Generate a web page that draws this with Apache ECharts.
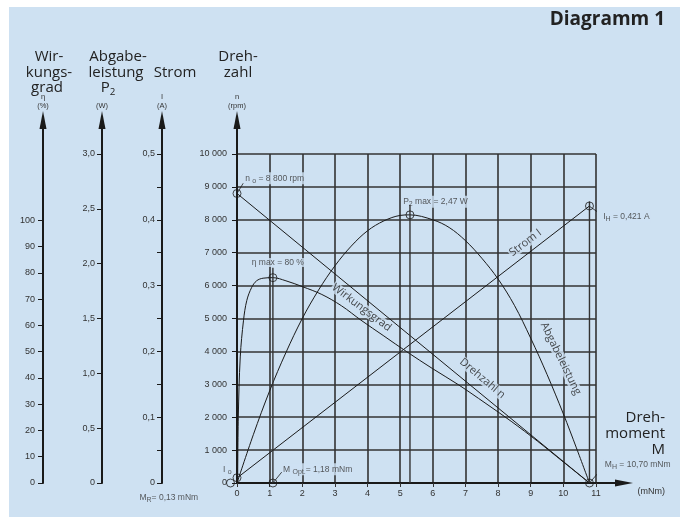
<!DOCTYPE html>
<html>
<head>
<meta charset="utf-8">
<script src="https://cdn.jsdelivr.net/npm/echarts@6/dist/echarts.min.js"></script>
<style>
  html, body { margin: 0; padding: 0; background: #fff; }
  #bg { position: absolute; left: 9px; top: 7px; width: 671px; height: 510px; background: #cee1f2; }
  #chart { position: absolute; left: 0; top: 0; width: 680px; height: 517px; }
</style>
</head>
<body>
<div id="bg"></div>
<div id="chart"></div>
<script>
// axis ticks
const effTicks = [0, 10, 20, 30, 40, 50, 60, 70, 80, 90, 100];

// Drehzahl n (rpm) over torque M (mNm)
const speedM = [0, 10.8];
const speedN = [8800, 0];

// Strom I (A)
const currentM = [-0.2, 10.8];
const currentI = [0, 0.421];

// Abgabeleistung P2 (W)
const powerM = [0, 0.5, 1, 1.5, 2, 2.5, 3, 3.5, 4, 4.5, 5, 5.3, 6, 6.5, 7, 7.5, 8, 8.5, 9, 9.5, 10, 10.4, 10.8];
const powerP = [0, 0.44, 0.84, 1.19, 1.50, 1.76, 1.98, 2.16, 2.30, 2.39, 2.44, 2.445, 2.40, 2.33, 2.21, 2.05, 1.86, 1.62, 1.32, 0.99, 0.63, 0.32, 0];

// Wirkungsgrad eta (%)
const effM = [0.02, 0.04, 0.1, 0.2, 0.3, 0.45, 0.6, 0.8, 1.1, 1.5, 2, 2.6, 3.2, 3.8, 4.5, 5.2, 6, 6.8, 7.6, 8.4, 9.2, 10, 10.8];
const effEta = [0, 25, 48, 62, 69.5, 74.5, 77, 78, 78.2, 77, 74.8, 71.8, 67.5, 62, 56, 50, 43.5, 37.3, 30.5, 23.5, 16, 8, 0];

// marked points
const speedMarks = [[0, 8800], [10.8, 0], [1.1, 0], [-0.2, 0]];   // n o, M H, M Opt, M R
const currentMarks = [[0, 0.008], [10.8, 0.421]];                 // I o, I H
const powerMarks = [[5.3, 2.445]];                                // P2 max
const effMarks = [[1.1, 78.2]];                                   // eta max

// vertical drop lines (torque, upper end in rpm)
const dropM = [1.1, 5.3, 10.8];
const dropTop = [6540, 8450, 8560];

// leader lines (torque / rpm)
const leaders = [
    [[0, 8800], [0.19, 9110]],
    [[10.8, 8410], [11.15, 8170]],
    [[10.8, 0], [11.25, 520]],
    [[1.1, 0], [1.37, 330]],
    [[-0.2, 0], [-0.57, -420]]
];

// notes next to the marks: text, torque, rpm
const notes = [
    ['n {s|o} = 8 800 rpm', 0.22, 9260],
    ['P{s|2} max = 2,47 W', 5.06, 8550],
    ['η max = 80 %', 0.42, 6700],
    ['I{s|H} = 0,421 A', 11.19, 8100],
    ['M{s|H} = 10,70 mNm', 11.24, 550],
    ['M {s|Opt.}= 1,18 mNm', 1.38, 420],
    ['I {s|o}', -0.46, 400],
    ['M{s|R}= 0,13 mNm', -3.02, -450]
];

// curve names: text, torque, rpm, angle
const curveNames = [
    ['Wirkungsgrad', 3.82, 5330, -37],
    ['Drehzahl n', 7.52, 3180, -40],
    ['Strom I', 8.84, 7300, 37],
    ['Abgabeleistung', 9.92, 3780, -64]
];

const ink = '#1a1a1a';
const gridInk = '#333';
const blue = '#cee1f2';
const smallFont = 'Liberation Sans, Arial, sans-serif';
const bigFont = 'Open Sans, sans-serif';
const tickText = { color: '#333', fontSize: 9, fontFamily: smallFont };

function pairs(xs, ys) {
    return xs.map((x, i) => [x, ys[i]]);
}

function comma(v) {
    return v === 0 ? '0' : v.toFixed(1).replace('.', ',');
}

function leftAxis(offset, extra) {
    return Object.assign({
        type: 'value',
        gridIndex: 0,
        position: 'left',
        offset: offset,
        axisLine: { show: false },
        axisTick: { show: true, length: 5, lineStyle: { color: ink } },
        splitLine: { show: false }
    }, extra);
}

function arrowAxis(offset) {
    return {
        type: 'value',
        gridIndex: 1,
        position: 'left',
        offset: offset,
        min: 0,
        max: 1,
        axisLine: { show: true, symbol: ['none', 'triangle'], symbolSize: [7, 18], lineStyle: { color: ink, width: 2 } },
        axisTick: { show: false },
        axisLabel: { show: false },
        splitLine: { show: false }
    };
}

function curve(data, yAxisIndex, smooth) {
    return {
        type: 'line',
        xAxisIndex: 0,
        yAxisIndex: yAxisIndex,
        data: data,
        symbol: 'none',
        smooth: smooth,
        z: 3,
        lineStyle: { color: ink, width: 1 },
        silent: true
    };
}

function marks(data, yAxisIndex) {
    return {
        type: 'scatter',
        xAxisIndex: 0,
        yAxisIndex: yAxisIndex,
        data: data,
        symbol: 'circle',
        symbolSize: 8,
        clip: false,
        z: 5,
        itemStyle: { color: 'rgba(0,0,0,0)', borderColor: ink, borderWidth: 1 },
        silent: true
    };
}

const subStyle = { fontSize: 7, color: '#333', fontFamily: smallFont, padding: [5, 0, 0, 0] };

const series = [
    curve(pairs(speedM, speedN), 0, false),
    curve(pairs(currentM, currentI), 1, false),
    curve(pairs(powerM, powerP), 2, 0.35),
    curve(pairs(effM, effEta), 3, 0.35)
];

dropM.forEach((m, i) => {
    series.push({
        type: 'line', xAxisIndex: 0, yAxisIndex: 0, symbol: 'none', silent: true, z: 3,
        data: [[m, 0], [m, dropTop[i]]],
        lineStyle: { color: gridInk, width: 1.4 }
    });
});

leaders.forEach(seg => {
    series.push({
        type: 'line', xAxisIndex: 0, yAxisIndex: 0, symbol: 'none', silent: true, clip: false, z: 3,
        data: seg,
        lineStyle: { color: ink, width: 0.8 }
    });
});

series.push(marks(speedMarks, 0), marks(currentMarks, 1), marks(powerMarks, 2), marks(effMarks, 3));

// notes (blue box hides the grid behind the text)
series.push({
    type: 'scatter', xAxisIndex: 0, yAxisIndex: 0, symbolSize: 0, clip: false, silent: true, z: 1,
    data: notes.map(n => ({ value: [n[1], n[2]], text: n[0] })),
    label: {
        show: true, position: 'right', distance: 0,
        formatter: p => p.data.text,
        color: '#333', fontSize: 8.5, fontFamily: smallFont,
        backgroundColor: blue, padding: [0, 1],
        rich: { s: subStyle }
    }
});

// curve names
series.push({
    type: 'scatter', xAxisIndex: 0, yAxisIndex: 0, symbolSize: 0, silent: true, z: 1,
    data: curveNames.map(c => ({
        value: [c[1], c[2]],
        label: { formatter: c[0], rotate: c[3] }
    })),
    label: {
        show: true, position: 'inside',
        color: '#222', fontSize: 11, fontFamily: bigFont,
        backgroundColor: blue, padding: [0, 1]
    }
});

// header texts
function txt(text, x, y, size, align, weight) {
    return {
        type: 'text', x: x, y: y, silent: true,
        style: {
            text: text, fill: '#222', align: align || 'center', verticalAlign: 'middle',
            fontSize: size, fontWeight: weight || 'normal', fontFamily: bigFont,
            rich: { s: { fontSize: size * 0.65, fill: '#222', fontFamily: bigFont, padding: [size * 0.5, 0, 0, 0] } }
        }
    };
}
function unit(text, x, y, size, align) {
    return {
        type: 'text', x: x, y: y, silent: true,
        style: { text: text, fill: '#333', align: align || 'center', verticalAlign: 'middle', fontSize: size || 7.5, fontFamily: smallFont }
    };
}

const headers = [
    txt('Diagramm 1', 665, 20, 19, 'right', 'bold'),
    txt('Wir-', 49, 57, 15), txt('kungs-', 49, 72.5, 15), txt('grad', 47, 88, 15),
    txt('Abgabe-', 118, 57, 15), txt('leistung', 116, 72.5, 15), txt('P{s|2}', 108, 88, 15),
    txt('Strom', 175, 72.5, 15),
    txt('Dreh-', 238, 57, 15), txt('zahl', 238, 72.5, 15),
    txt('Dreh-', 665, 418, 15, 'right'), txt('moment', 665, 434, 15, 'right'), txt('M', 665, 449.5, 15, 'right'),
    unit('η', 43, 97), unit('(%)', 43, 106),
    unit('(W)', 102, 106),
    unit('I', 162, 97), unit('(A)', 162, 106),
    unit('n', 237, 97), unit('(rpm)', 237, 106),
    unit('(mNm)', 665, 491.5, 9, 'right')
];

const chart = echarts.init(document.getElementById('chart'));

const options = {
    animation: false,
    grid: [
        { left: 237, top: 154, width: 359, height: 329, outerBoundsMode: 'none' },
        { left: 237, top: 120, width: 387, height: 363, outerBoundsMode: 'none' }
    ],
    xAxis: [
        {
            type: 'value', gridIndex: 0, min: 0, max: 11, interval: 1,
            axisLine: { show: false },
            axisTick: { show: true, length: 4, lineStyle: { color: gridInk } },
            axisLabel: Object.assign({ margin: 6 }, tickText),
            splitLine: { show: true, lineStyle: { color: gridInk, width: 1.6 } }
        },
        {
            type: 'value', gridIndex: 1, min: 0, max: 1,
            axisLine: { show: true, symbol: ['none', 'triangle'], symbolSize: [7, 18], lineStyle: { color: ink, width: 2 } },
            axisTick: { show: false },
            axisLabel: { show: false },
            splitLine: { show: false }
        }
    ],
    yAxis: [
        // Drehzahl
        leftAxis(0, {
            min: 0, max: 10000, interval: 1000,
            axisLabel: Object.assign({ margin: 10, formatter: v => String(v).replace(/\B(?=(\d{3})+(?!\d))/g, ' ') }, tickText),
            splitLine: { show: true, lineStyle: { color: gridInk, width: 1.6 } }
        }),
        // Strom
        leftAxis(75, {
            min: 0, max: 0.5, interval: 0.05,
            axisLabel: Object.assign({ margin: 7, formatter: v => Math.round(v * 100) % 10 === 0 ? comma(v) : '' }, tickText)
        }),
        // Abgabeleistung
        leftAxis(135, {
            min: 0, max: 3, interval: 0.5,
            axisLabel: Object.assign({ margin: 7, formatter: comma }, tickText)
        }),
        // Wirkungsgrad
        leftAxis(194, {
            min: 0, max: 125.3,
            axisTick: { show: true, length: 5, lineStyle: { color: ink }, customValues: effTicks },
            axisLabel: Object.assign({ margin: 8, customValues: effTicks }, tickText)
        }),
        arrowAxis(0), arrowAxis(75), arrowAxis(135), arrowAxis(194)
    ],
    graphic: headers,
    series: series
};

chart.setOption(options);
</script>
</body>
</html>
